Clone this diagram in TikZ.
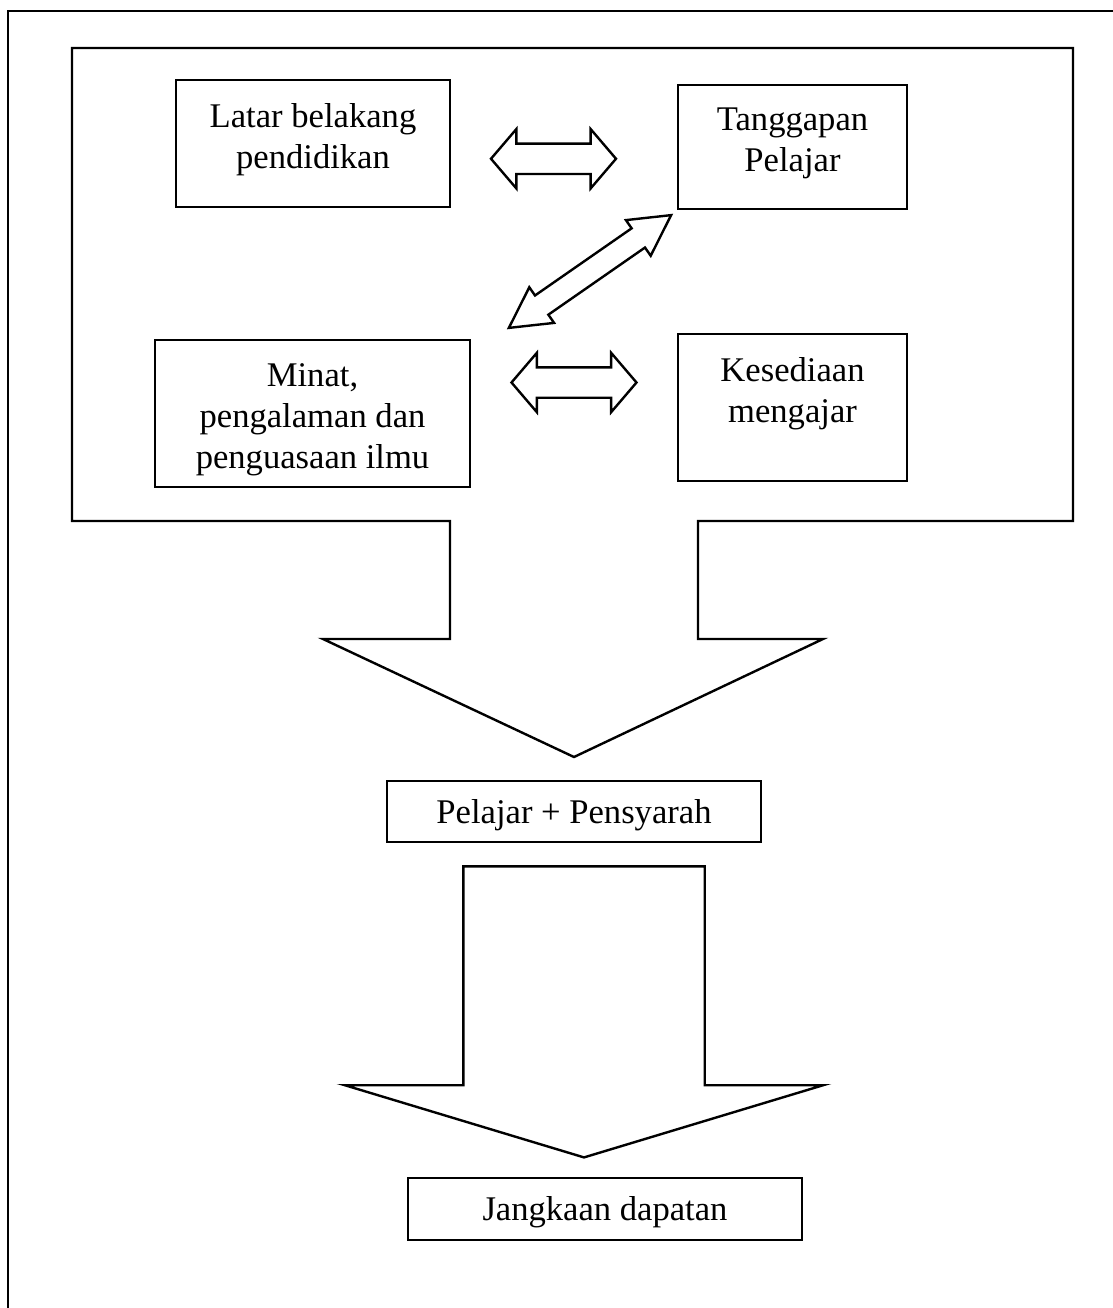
\documentclass[tikz,border=0pt]{standalone}
\usepackage{fontspec}
\setmainfont{Liberation Serif}
\usetikzlibrary{
    positioning,
    shapes.arrows,
    calc
}
\tikzset {
    box/.style = {draw, line width = 1.2pt, inner sep = 0pt},
    box text/.style = {
        align = center,
        inner sep = 0pt,
        font = \fontsize{17.3}{20.5}\selectfont
    },
    frame/.style = {line width = 1.2pt, line join = miter},
    %
    both way/.style = {
        double arrow,
        draw,
        line width = 1.2pt,
        inner xsep = 0pt,
        double arrow head extend = #1
    },
    fat arrow/.style = {
        single arrow,
        draw,
        line width = 1.2pt,
        inner xsep = 0pt,
        single arrow head extend = #1
    }
}

\begin{document}
\begin{tikzpicture}[x = 0.5pt, y = -0.5pt]
        \useasboundingbox (0, 0) rectangle (1113, 1308);
        % page frame
        \draw [line width = 1.3pt] (8, 1308) -- (8, 11) -- (1113, 11);
        % frame round the four boxes, opening into the first arrow
        \coordinate (tip) at (574, 757);
        \draw [frame] (450, 521) -- (72, 521) -- (72, 48) -- (1073, 48)
            -- (1073, 521) -- (698, 521) -- (698, 639) -- (823, 639)
            -- (tip) -- (323, 639) -- (450, 639) -- cycle;
        % boxes
        \node [box, minimum width = 137pt, minimum height = 63.5pt] (latar) at (313, 143.5) {};
        \node [box, minimum width = 114.5pt, minimum height = 62pt] (tanggapan) at (792.5, 147) {};
        \node [box, minimum width = 157.5pt, minimum height = 73.5pt] (minat) at (312.5, 413.5) {};
        \node [box, minimum width = 114.5pt, minimum height = 73.5pt] (kesediaan) at (792.5, 407.5) {};
        \node [box text, below = 12pt of latar.north] (latar text) {Latar belakang\\pendidikan};
        \node [box text, below = 12pt of tanggapan.north] (tanggapan text) {Tanggapan\\Pelajar};
        \node [box text, below = 12pt of minat.north] (minat text) {Minat,\\pengalaman dan\\penguasaan ilmu};
        \node [box text, below = 12pt of kesediaan.north] (kesediaan text) {Kesediaan\\mengajar};
        \node [box, box text, minimum width = 187pt, minimum height = 30.5pt, text depth = 0.5pt] (pelajar) at (574, 811.5) {Pelajar + Pensyarah};
        \node [box, box text, minimum width = 197pt, minimum height = 31pt, text depth = 0.5pt] (jangkaan) at (605, 1209) {Jangkaan dapatan};
        % double arrows
        \node [both way = 7.25pt, inner ysep = 7pt, minimum height = 62.5pt,
            double arrow tip angle = 99]
            (latar-tanggapan) at ($(latar.east)!0.5!(tanggapan.west) + (-10.5, 13.5)$) {};
        \node [both way = 7.25pt, inner ysep = 7pt, minimum height = 62.5pt,
            double arrow tip angle = 99]
            (minat-kesediaan) at ($(minat.east)!0.5!(kesediaan.west) + (0, -28)$) {};
        \node [both way = 5pt, inner ysep = 5.25pt, minimum height = 98.8pt,
            double arrow tip angle = 57, rotate = 34.8]
            (minat-tanggapan) at ($(minat.north east)!0.5!(tanggapan.south west) + (16, -3)$) {};
        % second arrow
        \node [fat arrow = 59.25pt, inner ysep = 59.75pt, minimum height = 145.5pt,
            single arrow tip angle = 146.4, rotate = -90, anchor = tail]
            (pelajar-jangkaan) at ([xshift = 5pt, yshift = -11pt] pelajar.south) {};
    \end{tikzpicture}
\end{document}
